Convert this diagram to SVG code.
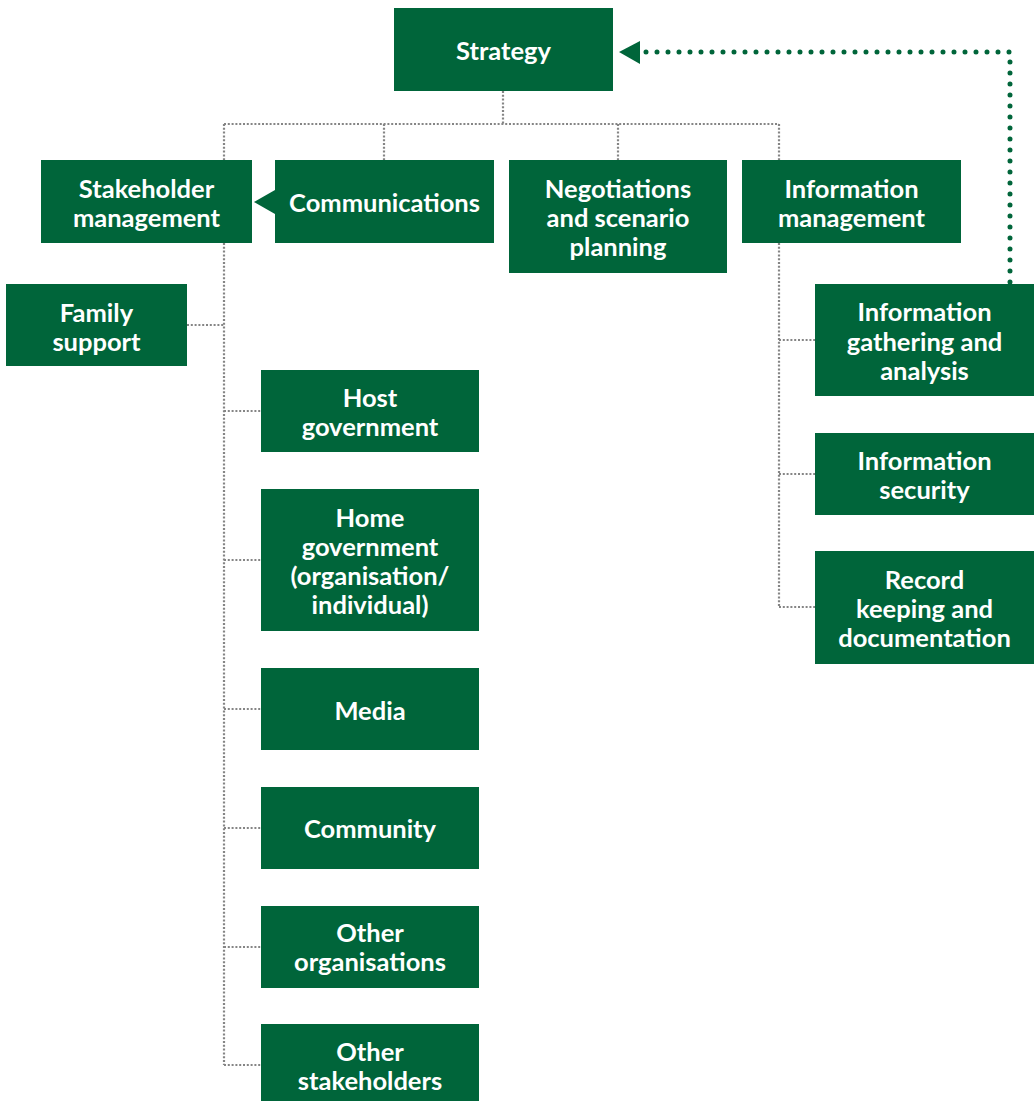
<svg xmlns="http://www.w3.org/2000/svg" width="1036" height="1101" viewBox="0 0 1036 1101">
  <style>
    .box { fill: #00653a; }
    .lbl { fill: #ffffff; font-family: Lato, "Open Sans", "Liberation Sans", sans-serif; font-weight: 700; font-size: 25.5px; text-anchor: middle; }
    .link { fill: none; stroke: #858585; stroke-width: 2.2; stroke-dasharray: 2 1.8; }
    .feedback { fill: none; stroke: #00653a; stroke-width: 5; stroke-linecap: round; stroke-dasharray: 0 11; }
    .head { fill: #00653a; }
  </style>
  <rect width="1036" height="1101" fill="#ffffff"/>

  <!-- connectors -->
  <g id="connectors">
    <path class="link" d="M503 91 V124 M224 124 H779 M224 124 V160 M384 124 V160 M618 124 V160 M779 124 V160"/>
    <path class="link" d="M224 243 V1065 M187 325 H224 M224 411 H261 M224 560 H261 M224 709 H261 M224 828 H261 M224 947 H261 M224 1065 H261"/>
    <path class="link" d="M779 243 V607 M779 340 H815 M779 474 H815 M779 607 H815"/>
    <path class="feedback" d="M1010 282 V52 H645"/>
    <polygon class="head" points="619,52 640,41 640,64"/>
    <polygon class="head" points="254,202 275,190 275,214"/>
  </g>

  <g id="strategy">
    <rect class="box" x="394" y="8" width="219" height="83"/>
    <text class="lbl" x="503.5" y="60">Strategy</text>
  </g>

  <g id="stakeholder-management">
    <rect class="box" x="41" y="160" width="211" height="83"/>
    <text class="lbl" x="146.5" y="198">Stakeholder</text>
    <text class="lbl" x="146.5" y="227">management</text>
  </g>

  <g id="communications">
    <rect class="box" x="275" y="160" width="219" height="83"/>
    <text class="lbl" x="384.5" y="212">Communications</text>
  </g>

  <g id="negotiations">
    <rect class="box" x="509" y="160" width="218" height="113"/>
    <text class="lbl" x="618" y="198">Negotiations</text>
    <text class="lbl" x="618" y="227">and scenario</text>
    <text class="lbl" x="618" y="256">planning</text>
  </g>

  <g id="information-management">
    <rect class="box" x="742" y="160" width="219" height="83"/>
    <text class="lbl" x="851.5" y="198">Information</text>
    <text class="lbl" x="851.5" y="227">management</text>
  </g>

  <g id="family-support">
    <rect class="box" x="6" y="284" width="181" height="82"/>
    <text class="lbl" x="96.5" y="322">Family</text>
    <text class="lbl" x="96.5" y="351">support</text>
  </g>

  <g id="host-government">
    <rect class="box" x="261" y="370" width="218" height="82"/>
    <text class="lbl" x="370" y="407">Host</text>
    <text class="lbl" x="370" y="436">government</text>
  </g>

  <g id="home-government">
    <rect class="box" x="261" y="489" width="218" height="142"/>
    <text class="lbl" x="370" y="527">Home</text>
    <text class="lbl" x="370" y="556">government</text>
    <text class="lbl" x="370" y="585">(organisation/</text>
    <text class="lbl" x="370" y="614">individual)</text>
  </g>

  <g id="media">
    <rect class="box" x="261" y="668" width="218" height="82"/>
    <text class="lbl" x="370" y="720">Media</text>
  </g>

  <g id="community">
    <rect class="box" x="261" y="787" width="218" height="82"/>
    <text class="lbl" x="370" y="838">Community</text>
  </g>

  <g id="other-organisations">
    <rect class="box" x="261" y="906" width="218" height="82"/>
    <text class="lbl" x="370" y="942">Other</text>
    <text class="lbl" x="370" y="971">organisations</text>
  </g>

  <g id="other-stakeholders">
    <rect class="box" x="261" y="1024" width="218" height="82"/>
    <text class="lbl" x="370" y="1061">Other</text>
    <text class="lbl" x="370" y="1090">stakeholders</text>
  </g>

  <g id="information-gathering">
    <rect class="box" x="815" y="284" width="219" height="112"/>
    <text class="lbl" x="924.5" y="321">Information</text>
    <text class="lbl" x="924.5" y="351">gathering and</text>
    <text class="lbl" x="924.5" y="380">analysis</text>
  </g>

  <g id="information-security">
    <rect class="box" x="815" y="433" width="219" height="82"/>
    <text class="lbl" x="924.5" y="470">Information</text>
    <text class="lbl" x="924.5" y="499">security</text>
  </g>

  <g id="record-keeping">
    <rect class="box" x="815" y="551" width="219" height="113"/>
    <text class="lbl" x="924.5" y="589">Record</text>
    <text class="lbl" x="924.5" y="618">keeping and</text>
    <text class="lbl" x="924.5" y="647">documentation</text>
  </g>
</svg>
